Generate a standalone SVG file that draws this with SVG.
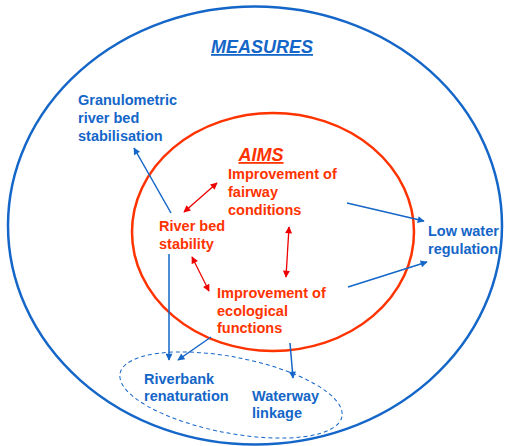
<svg xmlns="http://www.w3.org/2000/svg" width="506" height="446" viewBox="0 0 506 446">
<style>
text{font-family:"Liberation Sans",Arial,sans-serif;font-weight:bold;font-size:14.5px}
.b{fill:#1466c8}
.r{fill:#ff3300}
.t{font-size:18px;font-style:italic;text-decoration:underline}
.bl{stroke:#1466c8;stroke-width:1.5;fill:none}
.rl{stroke:#ee0000;stroke-width:1.3;fill:none}
</style>
<defs>
<marker id="ab" viewBox="0 0 10 10" refX="9" refY="5" markerWidth="8" markerHeight="7" markerUnits="userSpaceOnUse" orient="auto"><path d="M0,0L10,5L0,10z" fill="#1466c8"/></marker>
<marker id="ar" viewBox="0 0 10 10" refX="9" refY="5" markerWidth="8" markerHeight="7" markerUnits="userSpaceOnUse" orient="auto-start-reverse"><path d="M0,0L10,5L0,10z" fill="#ee0000"/></marker>
</defs>
<g id="measures">
<ellipse cx="255" cy="225.5" rx="247" ry="219" fill="none" stroke="#1466c8" stroke-width="2.5"/>
<text class="b t" x="262" y="53" text-anchor="middle">MEASURES</text>
</g>
<g id="aims">
<ellipse cx="273" cy="232" rx="141" ry="119" fill="none" stroke="#ff3300" stroke-width="2.5"/>
<text class="r t" x="261" y="161" text-anchor="middle">AIMS</text>
</g>
<g id="granulometric"><text class="b" x="78" y="105">Granulometric<tspan x="78" y="123">river bed</tspan><tspan x="78" y="140.5">stabilisation</tspan></text></g>
<g id="fairway"><text class="r" x="228" y="179">Improvement of<tspan x="228" y="197">fairway</tspan><tspan x="228" y="215">conditions</tspan></text></g>
<g id="riverbed"><text class="r" x="159" y="231">River bed<tspan x="159" y="249">stability</tspan></text></g>
<g id="lowwater"><text class="b" x="428" y="236">Low water<tspan x="428" y="253.5">regulation</tspan></text></g>
<g id="ecological"><text class="r" x="217" y="297.5">Improvement of<tspan x="217" y="315.5">ecological</tspan><tspan x="217" y="332.5">functions</tspan></text></g>
<g id="group-bottom"><ellipse cx="231" cy="395" rx="113" ry="38" transform="rotate(11 231 395)" fill="none" stroke="#1466c8" stroke-width="1" stroke-dasharray="4,3"/></g>
<g id="riverbank"><text class="b" x="144" y="383.5">Riverbank<tspan x="144" y="401">renaturation</tspan></text></g>
<g id="waterway"><text class="b" x="252" y="401">Waterway<tspan x="252" y="418">linkage</tspan></text></g>
<g id="connectors">
<line class="bl" x1="171" y1="213" x2="134" y2="148" marker-end="url(#ab)"/>
<line class="rl" x1="184" y1="212" x2="217" y2="183" marker-start="url(#ar)" marker-end="url(#ar)"/>
<line class="rl" x1="289" y1="227" x2="286" y2="277" marker-start="url(#ar)" marker-end="url(#ar)"/>
<line class="rl" x1="192" y1="257" x2="209" y2="291" marker-start="url(#ar)" marker-end="url(#ar)"/>
<line class="bl" x1="347" y1="203" x2="424" y2="221" marker-end="url(#ab)"/>
<line class="bl" x1="348" y1="287" x2="427" y2="262" marker-end="url(#ab)"/>
<line class="bl" x1="169" y1="254" x2="169" y2="360" marker-end="url(#ab)"/>
<line class="bl" x1="211" y1="337" x2="178" y2="360" marker-end="url(#ab)"/>
<line class="bl" x1="290" y1="343" x2="293" y2="378" marker-end="url(#ab)"/>
</g>
</svg>
